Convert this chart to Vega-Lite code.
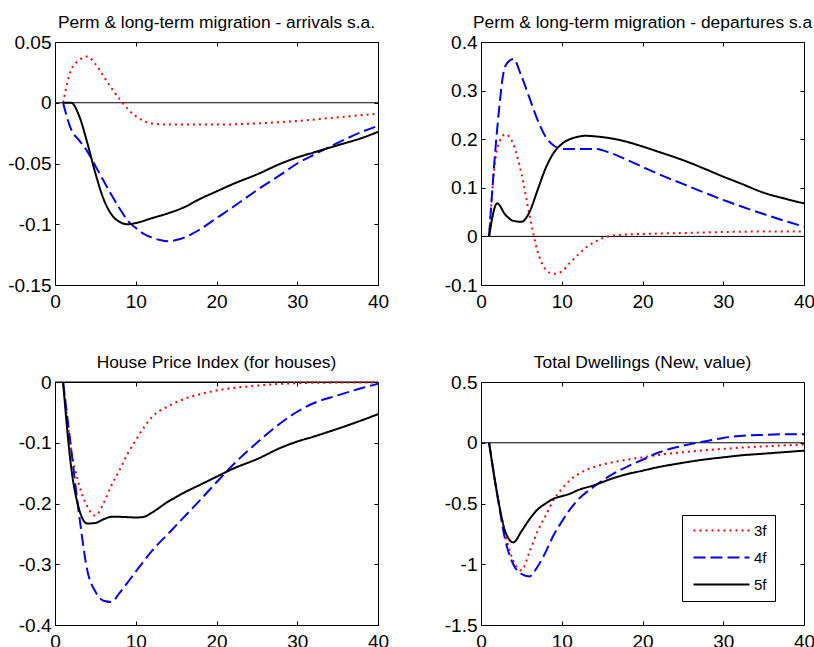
{
  "$schema": "https://vega.github.io/schema/vega-lite/v6.json",
  "background": "white",
  "padding": {"left": 7, "top": 13, "right": 5, "bottom": 5},
  "config": {
    "font": "Liberation Sans",
    "view": {"stroke": "black", "strokeWidth": 1},
    "axis": {"grid": false, "domain": false, "tickColor": "black", "tickSize": -4, "tickWidth": 1, "labelColor": "black", "labelFont": "Liberation Sans", "labelFontSize": 19, "title": null, "labelPadding": 8, "labelOverlap": false},
    "axisX": {"labelPadding": 11},
    "title": {"font": "Liberation Sans", "fontSize": 17.4, "fontWeight": "normal", "color": "black", "offset": 2, "anchor": "middle"},
    "line": {"strokeWidth": 2}
  },
  "data": {"values": [
    {"p":"a","s":"3f","t":1,"v":0},{"p":"a","s":"3f","t":2,"v":0.027},{"p":"a","s":"3f","t":3,"v":0.035},{"p":"a","s":"3f","t":4,"v":0.038},{"p":"a","s":"3f","t":5,"v":0.032},{"p":"a","s":"3f","t":6,"v":0.022},{"p":"a","s":"3f","t":7,"v":0.012},{"p":"a","s":"3f","t":8,"v":0.003},{"p":"a","s":"3f","t":9,"v":-0.005},{"p":"a","s":"3f","t":10,"v":-0.011},{"p":"a","s":"3f","t":11,"v":-0.015},{"p":"a","s":"3f","t":12,"v":-0.017},{"p":"a","s":"3f","t":14,"v":-0.018},{"p":"a","s":"3f","t":16,"v":-0.018},{"p":"a","s":"3f","t":20,"v":-0.018},{"p":"a","s":"3f","t":25,"v":-0.017},{"p":"a","s":"3f","t":30,"v":-0.015},{"p":"a","s":"3f","t":35,"v":-0.012},{"p":"a","s":"3f","t":40,"v":-0.009},
    {"p":"a","s":"4f","t":1,"v":0},{"p":"a","s":"4f","t":2,"v":-0.022},{"p":"a","s":"4f","t":3,"v":-0.031},{"p":"a","s":"4f","t":4,"v":-0.04},{"p":"a","s":"4f","t":5,"v":-0.052},{"p":"a","s":"4f","t":6,"v":-0.064},{"p":"a","s":"4f","t":7,"v":-0.076},{"p":"a","s":"4f","t":8,"v":-0.087},{"p":"a","s":"4f","t":9,"v":-0.097},{"p":"a","s":"4f","t":10,"v":-0.103},{"p":"a","s":"4f","t":11,"v":-0.108},{"p":"a","s":"4f","t":12,"v":-0.111},{"p":"a","s":"4f","t":13,"v":-0.113},{"p":"a","s":"4f","t":14,"v":-0.114},{"p":"a","s":"4f","t":15,"v":-0.113},{"p":"a","s":"4f","t":16,"v":-0.111},{"p":"a","s":"4f","t":18,"v":-0.104},{"p":"a","s":"4f","t":20,"v":-0.095},{"p":"a","s":"4f","t":22,"v":-0.086},{"p":"a","s":"4f","t":25,"v":-0.072},{"p":"a","s":"4f","t":28,"v":-0.059},{"p":"a","s":"4f","t":30,"v":-0.05},{"p":"a","s":"4f","t":32,"v":-0.043},{"p":"a","s":"4f","t":35,"v":-0.033},{"p":"a","s":"4f","t":38,"v":-0.024},{"p":"a","s":"4f","t":40,"v":-0.019},
    {"p":"a","s":"5f","t":1,"v":0},{"p":"a","s":"5f","t":2,"v":0},{"p":"a","s":"5f","t":3,"v":-0.011},{"p":"a","s":"5f","t":4,"v":-0.033},{"p":"a","s":"5f","t":5,"v":-0.058},{"p":"a","s":"5f","t":6,"v":-0.079},{"p":"a","s":"5f","t":7,"v":-0.092},{"p":"a","s":"5f","t":8,"v":-0.098},{"p":"a","s":"5f","t":9,"v":-0.1},{"p":"a","s":"5f","t":10,"v":-0.099},{"p":"a","s":"5f","t":12,"v":-0.095},{"p":"a","s":"5f","t":14,"v":-0.091},{"p":"a","s":"5f","t":16,"v":-0.086},{"p":"a","s":"5f","t":18,"v":-0.079},{"p":"a","s":"5f","t":20,"v":-0.073},{"p":"a","s":"5f","t":22,"v":-0.067},{"p":"a","s":"5f","t":25,"v":-0.059},{"p":"a","s":"5f","t":28,"v":-0.05},{"p":"a","s":"5f","t":30,"v":-0.045},{"p":"a","s":"5f","t":32,"v":-0.041},{"p":"a","s":"5f","t":35,"v":-0.035},{"p":"a","s":"5f","t":38,"v":-0.029},{"p":"a","s":"5f","t":40,"v":-0.024},
    {"p":"b","s":"3f","t":1,"v":0},{"p":"b","s":"3f","t":2,"v":0.18},{"p":"b","s":"3f","t":3,"v":0.21},{"p":"b","s":"3f","t":4,"v":0.19},{"p":"b","s":"3f","t":5,"v":0.13},{"p":"b","s":"3f","t":6,"v":0.045},{"p":"b","s":"3f","t":7,"v":-0.03},{"p":"b","s":"3f","t":8,"v":-0.068},{"p":"b","s":"3f","t":9,"v":-0.077},{"p":"b","s":"3f","t":10,"v":-0.072},{"p":"b","s":"3f","t":11,"v":-0.055},{"p":"b","s":"3f","t":12,"v":-0.038},{"p":"b","s":"3f","t":13,"v":-0.023},{"p":"b","s":"3f","t":14,"v":-0.012},{"p":"b","s":"3f","t":15,"v":-0.004},{"p":"b","s":"3f","t":16,"v":0.001},{"p":"b","s":"3f","t":18,"v":0.004},{"p":"b","s":"3f","t":20,"v":0.005},{"p":"b","s":"3f","t":25,"v":0.007},{"p":"b","s":"3f","t":30,"v":0.009},{"p":"b","s":"3f","t":35,"v":0.01},{"p":"b","s":"3f","t":40,"v":0.01},
    {"p":"b","s":"4f","t":1,"v":0},{"p":"b","s":"4f","t":2,"v":0.22},{"p":"b","s":"4f","t":3,"v":0.35},{"p":"b","s":"4f","t":4,"v":0.365},{"p":"b","s":"4f","t":5,"v":0.33},{"p":"b","s":"4f","t":6,"v":0.285},{"p":"b","s":"4f","t":7,"v":0.24},{"p":"b","s":"4f","t":8,"v":0.205},{"p":"b","s":"4f","t":9,"v":0.187},{"p":"b","s":"4f","t":10,"v":0.18},{"p":"b","s":"4f","t":12,"v":0.18},{"p":"b","s":"4f","t":14,"v":0.18},{"p":"b","s":"4f","t":16,"v":0.172},{"p":"b","s":"4f","t":18,"v":0.158},{"p":"b","s":"4f","t":20,"v":0.143},{"p":"b","s":"4f","t":22,"v":0.128},{"p":"b","s":"4f","t":25,"v":0.108},{"p":"b","s":"4f","t":28,"v":0.088},{"p":"b","s":"4f","t":30,"v":0.075},{"p":"b","s":"4f","t":32,"v":0.063},{"p":"b","s":"4f","t":35,"v":0.046},{"p":"b","s":"4f","t":38,"v":0.03},{"p":"b","s":"4f","t":40,"v":0.02},
    {"p":"b","s":"5f","t":1,"v":0},{"p":"b","s":"5f","t":2,"v":0.068},{"p":"b","s":"5f","t":3,"v":0.045},{"p":"b","s":"5f","t":4,"v":0.032},{"p":"b","s":"5f","t":5,"v":0.03},{"p":"b","s":"5f","t":6,"v":0.05},{"p":"b","s":"5f","t":7,"v":0.095},{"p":"b","s":"5f","t":8,"v":0.14},{"p":"b","s":"5f","t":9,"v":0.172},{"p":"b","s":"5f","t":10,"v":0.19},{"p":"b","s":"5f","t":11,"v":0.2},{"p":"b","s":"5f","t":12,"v":0.205},{"p":"b","s":"5f","t":13,"v":0.207},{"p":"b","s":"5f","t":14,"v":0.206},{"p":"b","s":"5f","t":16,"v":0.202},{"p":"b","s":"5f","t":18,"v":0.195},{"p":"b","s":"5f","t":20,"v":0.185},{"p":"b","s":"5f","t":22,"v":0.174},{"p":"b","s":"5f","t":25,"v":0.157},{"p":"b","s":"5f","t":28,"v":0.137},{"p":"b","s":"5f","t":30,"v":0.123},{"p":"b","s":"5f","t":32,"v":0.11},{"p":"b","s":"5f","t":35,"v":0.09},{"p":"b","s":"5f","t":38,"v":0.076},{"p":"b","s":"5f","t":40,"v":0.068},
    {"p":"c","s":"3f","t":1,"v":0},{"p":"c","s":"3f","t":2,"v":-0.11},{"p":"c","s":"3f","t":3,"v":-0.17},{"p":"c","s":"3f","t":4,"v":-0.205},{"p":"c","s":"3f","t":5,"v":-0.22},{"p":"c","s":"3f","t":6,"v":-0.2},{"p":"c","s":"3f","t":7,"v":-0.17},{"p":"c","s":"3f","t":8,"v":-0.145},{"p":"c","s":"3f","t":9,"v":-0.118},{"p":"c","s":"3f","t":10,"v":-0.096},{"p":"c","s":"3f","t":11,"v":-0.075},{"p":"c","s":"3f","t":12,"v":-0.058},{"p":"c","s":"3f","t":14,"v":-0.04},{"p":"c","s":"3f","t":16,"v":-0.028},{"p":"c","s":"3f","t":18,"v":-0.02},{"p":"c","s":"3f","t":20,"v":-0.014},{"p":"c","s":"3f","t":22,"v":-0.01},{"p":"c","s":"3f","t":25,"v":-0.006},{"p":"c","s":"3f","t":28,"v":-0.003},{"p":"c","s":"3f","t":30,"v":-0.002},{"p":"c","s":"3f","t":35,"v":-0.001},{"p":"c","s":"3f","t":40,"v":-0.001},
    {"p":"c","s":"4f","t":1,"v":0},{"p":"c","s":"4f","t":2,"v":-0.11},{"p":"c","s":"4f","t":3,"v":-0.22},{"p":"c","s":"4f","t":4,"v":-0.31},{"p":"c","s":"4f","t":5,"v":-0.345},{"p":"c","s":"4f","t":6,"v":-0.36},{"p":"c","s":"4f","t":7,"v":-0.362},{"p":"c","s":"4f","t":8,"v":-0.347},{"p":"c","s":"4f","t":9,"v":-0.33},{"p":"c","s":"4f","t":10,"v":-0.312},{"p":"c","s":"4f","t":11,"v":-0.295},{"p":"c","s":"4f","t":12,"v":-0.278},{"p":"c","s":"4f","t":14,"v":-0.25},{"p":"c","s":"4f","t":16,"v":-0.222},{"p":"c","s":"4f","t":18,"v":-0.194},{"p":"c","s":"4f","t":20,"v":-0.165},{"p":"c","s":"4f","t":22,"v":-0.137},{"p":"c","s":"4f","t":25,"v":-0.1},{"p":"c","s":"4f","t":28,"v":-0.067},{"p":"c","s":"4f","t":30,"v":-0.049},{"p":"c","s":"4f","t":32,"v":-0.035},{"p":"c","s":"4f","t":35,"v":-0.022},{"p":"c","s":"4f","t":38,"v":-0.01},{"p":"c","s":"4f","t":40,"v":-0.003},
    {"p":"c","s":"5f","t":1,"v":0},{"p":"c","s":"5f","t":2,"v":-0.14},{"p":"c","s":"5f","t":3,"v":-0.21},{"p":"c","s":"5f","t":4,"v":-0.233},{"p":"c","s":"5f","t":5,"v":-0.232},{"p":"c","s":"5f","t":6,"v":-0.226},{"p":"c","s":"5f","t":7,"v":-0.222},{"p":"c","s":"5f","t":8,"v":-0.222},{"p":"c","s":"5f","t":10,"v":-0.223},{"p":"c","s":"5f","t":11,"v":-0.222},{"p":"c","s":"5f","t":12,"v":-0.215},{"p":"c","s":"5f","t":14,"v":-0.197},{"p":"c","s":"5f","t":16,"v":-0.182},{"p":"c","s":"5f","t":18,"v":-0.169},{"p":"c","s":"5f","t":20,"v":-0.156},{"p":"c","s":"5f","t":22,"v":-0.143},{"p":"c","s":"5f","t":25,"v":-0.127},{"p":"c","s":"5f","t":28,"v":-0.108},{"p":"c","s":"5f","t":30,"v":-0.098},{"p":"c","s":"5f","t":32,"v":-0.09},{"p":"c","s":"5f","t":35,"v":-0.077},{"p":"c","s":"5f","t":38,"v":-0.063},{"p":"c","s":"5f","t":40,"v":-0.053},
    {"p":"d","s":"3f","t":1,"v":0},{"p":"d","s":"3f","t":2,"v":-0.42},{"p":"d","s":"3f","t":3,"v":-0.75},{"p":"d","s":"3f","t":4,"v":-0.97},{"p":"d","s":"3f","t":5,"v":-1.05},{"p":"d","s":"3f","t":6,"v":-0.9},{"p":"d","s":"3f","t":7,"v":-0.73},{"p":"d","s":"3f","t":8,"v":-0.6},{"p":"d","s":"3f","t":9,"v":-0.47},{"p":"d","s":"3f","t":10,"v":-0.38},{"p":"d","s":"3f","t":11,"v":-0.31},{"p":"d","s":"3f","t":12,"v":-0.26},{"p":"d","s":"3f","t":14,"v":-0.2},{"p":"d","s":"3f","t":16,"v":-0.165},{"p":"d","s":"3f","t":18,"v":-0.14},{"p":"d","s":"3f","t":20,"v":-0.12},{"p":"d","s":"3f","t":22,"v":-0.1},{"p":"d","s":"3f","t":25,"v":-0.078},{"p":"d","s":"3f","t":28,"v":-0.06},{"p":"d","s":"3f","t":30,"v":-0.05},{"p":"d","s":"3f","t":35,"v":-0.03},{"p":"d","s":"3f","t":40,"v":-0.015},
    {"p":"d","s":"4f","t":1,"v":0},{"p":"d","s":"4f","t":2,"v":-0.42},{"p":"d","s":"4f","t":3,"v":-0.8},{"p":"d","s":"4f","t":4,"v":-1.0},{"p":"d","s":"4f","t":5,"v":-1.08},{"p":"d","s":"4f","t":6,"v":-1.1},{"p":"d","s":"4f","t":7,"v":-1.02},{"p":"d","s":"4f","t":8,"v":-0.9},{"p":"d","s":"4f","t":9,"v":-0.76},{"p":"d","s":"4f","t":10,"v":-0.65},{"p":"d","s":"4f","t":11,"v":-0.55},{"p":"d","s":"4f","t":12,"v":-0.47},{"p":"d","s":"4f","t":14,"v":-0.36},{"p":"d","s":"4f","t":16,"v":-0.27},{"p":"d","s":"4f","t":18,"v":-0.2},{"p":"d","s":"4f","t":20,"v":-0.14},{"p":"d","s":"4f","t":22,"v":-0.08},{"p":"d","s":"4f","t":25,"v":-0.025},{"p":"d","s":"4f","t":28,"v":0.015},{"p":"d","s":"4f","t":30,"v":0.04},{"p":"d","s":"4f","t":32,"v":0.055},{"p":"d","s":"4f","t":35,"v":0.065},{"p":"d","s":"4f","t":38,"v":0.07},{"p":"d","s":"4f","t":40,"v":0.07},
    {"p":"d","s":"5f","t":1,"v":0},{"p":"d","s":"5f","t":2,"v":-0.42},{"p":"d","s":"5f","t":3,"v":-0.73},{"p":"d","s":"5f","t":4,"v":-0.82},{"p":"d","s":"5f","t":5,"v":-0.73},{"p":"d","s":"5f","t":6,"v":-0.63},{"p":"d","s":"5f","t":7,"v":-0.55},{"p":"d","s":"5f","t":8,"v":-0.5},{"p":"d","s":"5f","t":9,"v":-0.46},{"p":"d","s":"5f","t":10,"v":-0.44},{"p":"d","s":"5f","t":11,"v":-0.42},{"p":"d","s":"5f","t":12,"v":-0.39},{"p":"d","s":"5f","t":14,"v":-0.35},{"p":"d","s":"5f","t":16,"v":-0.3},{"p":"d","s":"5f","t":18,"v":-0.26},{"p":"d","s":"5f","t":20,"v":-0.23},{"p":"d","s":"5f","t":22,"v":-0.2},{"p":"d","s":"5f","t":25,"v":-0.165},{"p":"d","s":"5f","t":28,"v":-0.135},{"p":"d","s":"5f","t":30,"v":-0.12},{"p":"d","s":"5f","t":32,"v":-0.105},{"p":"d","s":"5f","t":35,"v":-0.09},{"p":"d","s":"5f","t":38,"v":-0.075},{"p":"d","s":"5f","t":40,"v":-0.065}
  ]},
  "columns": 2,
  "spacing": {"row": 97, "column": 103},
  "bounds": "flush",
  "resolve": {"scale": {"color": "independent", "strokeDash": "independent"}, "legend": {"color": "independent", "strokeDash": "independent"}},
  "concat": [
    {
      "title": {"text": "Perm & long-term migration - arrivals s.a."},
      "width": 323, "height": 243,
      "layer": [
        {"data": {"values": [{}]}, "mark": {"type": "rule", "color": "black", "strokeWidth": 1},
         "encoding": {"y": {"datum": 0, "type": "quantitative", "scale": {"domain": [-0.15, 0.05], "nice": false}, "axis": {"orient": "right", "labels": false, "values": [-0.15, -0.1, -0.05, 0, 0.05]}}}},
        {"data": {"values": [{}]}, "mark": {"type": "rule", "opacity": 0},
         "encoding": {"x": {"datum": 0, "type": "quantitative", "scale": {"domain": [0, 40], "nice": false}, "axis": {"orient": "top", "labels": false, "values": [0, 10, 20, 30, 40]}}}},
        {"transform": [{"filter": "datum.p == 'a'"}],
         "mark": {"type": "line", "interpolate": "monotone"},
         "encoding": {
           "x": {"field": "t", "type": "quantitative", "scale": {"domain": [0, 40], "nice": false}, "axis": {"orient": "bottom", "values": [0, 10, 20, 30, 40], "labelFlush": false}},
           "y": {"field": "v", "type": "quantitative", "scale": {"domain": [-0.15, 0.05], "nice": false}, "axis": {"orient": "left", "values": [-0.15, -0.1, -0.05, 0, 0.05], "labelExpr": "'' + datum.value"}},
           "color": {"field": "s", "type": "nominal", "scale": {"domain": ["3f", "4f", "5f"], "range": ["#ff0000", "#0000ff", "#000000"]}, "legend": null},
           "strokeDash": {"field": "s", "type": "nominal", "scale": {"domain": ["3f", "4f", "5f"], "range": [[2, 4], [12, 5], [1, 0]]}, "legend": null}
         }}
      ],
      "resolve": {"axis": {"x": "independent", "y": "independent"}}
    },
    {
      "title": {"text": "Perm & long-term migration - departures s.a"},
      "width": 323, "height": 243,
      "layer": [
        {"data": {"values": [{}]}, "mark": {"type": "rule", "color": "black", "strokeWidth": 1},
         "encoding": {"y": {"datum": 0, "type": "quantitative", "scale": {"domain": [-0.1, 0.4], "nice": false}, "axis": {"orient": "right", "labels": false, "values": [-0.1, 0, 0.1, 0.2, 0.3, 0.4]}}}},
        {"data": {"values": [{}]}, "mark": {"type": "rule", "opacity": 0},
         "encoding": {"x": {"datum": 0, "type": "quantitative", "scale": {"domain": [0, 40], "nice": false}, "axis": {"orient": "top", "labels": false, "values": [0, 10, 20, 30, 40]}}}},
        {"transform": [{"filter": "datum.p == 'b'"}],
         "mark": {"type": "line", "interpolate": "monotone"},
         "encoding": {
           "x": {"field": "t", "type": "quantitative", "scale": {"domain": [0, 40], "nice": false}, "axis": {"orient": "bottom", "values": [0, 10, 20, 30, 40], "labelFlush": false}},
           "y": {"field": "v", "type": "quantitative", "scale": {"domain": [-0.1, 0.4], "nice": false}, "axis": {"orient": "left", "values": [-0.1, 0, 0.1, 0.2, 0.3, 0.4], "labelExpr": "'' + datum.value"}},
           "color": {"field": "s", "type": "nominal", "scale": {"domain": ["3f", "4f", "5f"], "range": ["#ff0000", "#0000ff", "#000000"]}, "legend": null},
           "strokeDash": {"field": "s", "type": "nominal", "scale": {"domain": ["3f", "4f", "5f"], "range": [[2, 4], [12, 5], [1, 0]]}, "legend": null}
         }}
      ],
      "resolve": {"axis": {"x": "independent", "y": "independent"}}
    },
    {
      "title": {"text": "House Price Index (for houses)"},
      "width": 323, "height": 243,
      "layer": [
        {"data": {"values": [{}]}, "mark": {"type": "rule", "color": "black", "strokeWidth": 1},
         "encoding": {"y": {"datum": 0, "type": "quantitative", "scale": {"domain": [-0.4, 0], "nice": false}, "axis": {"orient": "right", "labels": false, "values": [-0.4, -0.3, -0.2, -0.1, 0]}}}},
        {"data": {"values": [{}]}, "mark": {"type": "rule", "opacity": 0},
         "encoding": {"x": {"datum": 0, "type": "quantitative", "scale": {"domain": [0, 40], "nice": false}, "axis": {"orient": "top", "labels": false, "values": [0, 10, 20, 30, 40]}}}},
        {"transform": [{"filter": "datum.p == 'c'"}],
         "mark": {"type": "line", "interpolate": "monotone"},
         "encoding": {
           "x": {"field": "t", "type": "quantitative", "scale": {"domain": [0, 40], "nice": false}, "axis": {"orient": "bottom", "values": [0, 10, 20, 30, 40], "labelFlush": false}},
           "y": {"field": "v", "type": "quantitative", "scale": {"domain": [-0.4, 0], "nice": false}, "axis": {"orient": "left", "values": [-0.4, -0.3, -0.2, -0.1, 0], "labelExpr": "'' + datum.value"}},
           "color": {"field": "s", "type": "nominal", "scale": {"domain": ["3f", "4f", "5f"], "range": ["#ff0000", "#0000ff", "#000000"]}, "legend": null},
           "strokeDash": {"field": "s", "type": "nominal", "scale": {"domain": ["3f", "4f", "5f"], "range": [[2, 4], [12, 5], [1, 0]]}, "legend": null}
         }}
      ],
      "resolve": {"axis": {"x": "independent", "y": "independent"}}
    },
    {
      "title": {"text": "Total Dwellings (New, value)"},
      "width": 323, "height": 243,
      "layer": [
        {"data": {"values": [{}]}, "mark": {"type": "rule", "color": "black", "strokeWidth": 1},
         "encoding": {"y": {"datum": 0, "type": "quantitative", "scale": {"domain": [-1.5, 0.5], "nice": false}, "axis": {"orient": "right", "labels": false, "values": [-1.5, -1, -0.5, 0, 0.5]}}}},
        {"data": {"values": [{}]}, "mark": {"type": "rule", "opacity": 0},
         "encoding": {"x": {"datum": 0, "type": "quantitative", "scale": {"domain": [0, 40], "nice": false}, "axis": {"orient": "top", "labels": false, "values": [0, 10, 20, 30, 40]}}}},
        {"transform": [{"filter": "datum.p == 'd'"}],
         "mark": {"type": "line", "interpolate": "monotone"},
         "encoding": {
           "x": {"field": "t", "type": "quantitative", "scale": {"domain": [0, 40], "nice": false}, "axis": {"orient": "bottom", "values": [0, 10, 20, 30, 40], "labelFlush": false}},
           "y": {"field": "v", "type": "quantitative", "scale": {"domain": [-1.5, 0.5], "nice": false}, "axis": {"orient": "left", "values": [-1.5, -1, -0.5, 0, 0.5], "labelExpr": "'' + datum.value"}},
           "color": {"field": "s", "type": "nominal", "scale": {"domain": ["3f", "4f", "5f"], "range": ["#ff0000", "#0000ff", "#000000"]},
             "legend": {"orient": "none", "legendX": 201, "legendY": 133, "title": null, "symbolType": "M-1,0H13", "symbolSize": 64, "symbolStrokeWidth": 2, "labelFontSize": 15, "labelFont": "Liberation Sans", "labelColor": "black", "strokeColor": "black", "fillColor": "white", "padding": 8, "rowPadding": 11, "labelOffset": 49}},
           "strokeDash": {"field": "s", "type": "nominal", "scale": {"domain": ["3f", "4f", "5f"], "range": [[2, 4], [12, 5], [1, 0]]},
             "legend": {"orient": "none", "legendX": 201, "legendY": 133, "title": null, "symbolType": "M-1,0H13", "symbolSize": 64, "symbolStrokeWidth": 2, "labelFontSize": 15, "labelFont": "Liberation Sans", "labelColor": "black", "strokeColor": "black", "fillColor": "white", "padding": 8, "rowPadding": 11, "labelOffset": 49}}
         }}
      ],
      "resolve": {"axis": {"x": "independent", "y": "independent"}}
    }
  ]
}
